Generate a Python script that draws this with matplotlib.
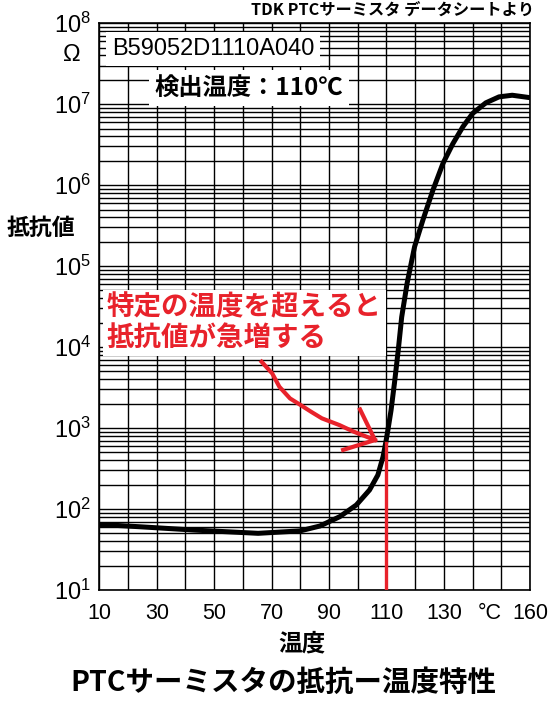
import numpy as np
import matplotlib
matplotlib.use('Agg')
import matplotlib.pyplot as plt
from matplotlib.ticker import FixedLocator, LogLocator, NullFormatter
from matplotlib.transforms import ScaledTranslation

plt.rcParams['font.family'] = ['Liberation Sans', 'Noto Sans CJK JP', 'DejaVu Sans']
plt.rcParams['mathtext.fontset'] = 'custom'
plt.rcParams['mathtext.rm'] = 'Liberation Sans'

JP = ['Noto Sans CJK JP', 'DejaVu Sans']
RED = '#e8222b'

# 抵抗値カーブ (温度 ℃, log10 抵抗値 Ω)
temp = [10, 24.6, 43.1, 65.3, 79.9, 86.8, 93.7, 99.5, 104.1, 107.0, 108.8,
        109.7, 110.5, 111.6, 112.8, 114.1, 115.3, 117.2, 119.8, 122.7, 126.2,
        129.7, 133.1, 136.6, 140.0, 144.6, 149.2, 153.8, 160]
log_r = [1.81, 1.78, 1.74, 1.70, 1.73, 1.79, 1.905, 2.05, 2.235, 2.42, 2.645,
         2.81, 2.975, 3.22, 3.56, 3.96, 4.37, 4.79, 5.24, 5.57, 5.94,
         6.27, 6.51, 6.72, 6.885, 7.016, 7.09, 7.11, 7.08]
resist = [10 ** v for v in log_r]

# 検出温度
t_detect = 110
r_detect = 10 ** 2.81

# 手書き風の矢印 (温度, log10 抵抗値)
arrow_t = [66.5, 70.2, 72.7, 76.4, 80.1, 83.8, 87.5, 93.6, 98.6, 106.0]
arrow_r = [3.819, 3.675, 3.51, 3.366, 3.284, 3.20, 3.12, 3.037, 2.955, 2.852]
head_t = [100.8, 106.0, 94.9]
head_r = [3.23, 2.852, 2.73]

xticks = list(range(10, 170, 10))
xlabels = ['10', '', '30', '', '50', '', '70', '', '90', '', '110', '', '130', '', '°C', '160']

fig = plt.figure(figsize=(5.55, 7.13), dpi=100)
ax = fig.add_axes([0.179, 0.1725, 0.776, 0.795])

ax.set_yscale('log')
ax.set_xlim(10, 160)
ax.set_ylim(10, 1e8)

ax.plot(temp, resist, color='black', lw=3.6, solid_capstyle='butt',
        solid_joinstyle='round', zorder=4)
ax.plot([t_detect, t_detect], [10, r_detect], color=RED, lw=2.4, zorder=5)

ax.plot(arrow_t, [10 ** v for v in arrow_r], color=RED, lw=3, zorder=6,
        solid_joinstyle='round')
ax.plot(head_t, [10 ** v for v in head_r], color=RED, lw=3, zorder=6,
        solid_joinstyle='miter')

ax.xaxis.set_major_locator(FixedLocator(xticks))
ax.set_xticklabels(xlabels)
ax.yaxis.set_minor_locator(LogLocator(base=10, subs=np.arange(2, 10), numticks=20))
ax.yaxis.set_minor_formatter(NullFormatter())
ax.set_yticks([10 ** k for k in range(1, 9)])
ax.set_yticklabels([r'$\mathregular{10^{%d}}$' % k for k in range(1, 9)])

ax.grid(True, which='major', color='black', lw=1.0)
ax.grid(True, which='minor', axis='y', color='black', lw=1.0)
ax.tick_params(which='both', length=0)
ax.tick_params(axis='x', labelsize=15.5, pad=9)
ax.tick_params(axis='y', labelsize=17, pad=6)
for s in ax.spines.values():
    s.set_linewidth(1.2)

# °C のラベルは少し左へずらす
lab = ax.get_xticklabels()[14]
lab.set_transform(lab.get_transform() + ScaledTranslation(-0.12, 0, fig.dpi_scale_trans))

ax.text(14.3, 10 ** 7.68, 'B59052D1110A040', fontsize=17, ha='left', va='center',
        bbox=dict(facecolor='white', edgecolor='none', pad=4), zorder=7)
ax.text(29.3, 10 ** 7.2, '検出温度：110℃', fontsize=17.5, fontweight='bold',
        family=JP, ha='left', va='center',
        bbox=dict(facecolor='white', edgecolor='none', pad=4), zorder=7)
ax.text(12.6, 10 ** 4.3, '特定の温度を超えると\n抵抗値が急増する', fontsize=19.8,
        fontweight='bold', family=JP, color=RED, ha='left', va='center',
        linespacing=1.1, bbox=dict(facecolor='white', edgecolor='none', pad=3), zorder=7)

fig.text(0.13, 0.923, 'Ω', fontsize=17, ha='center', va='center')
fig.text(0.074, 0.68, '抵抗値', fontsize=16.5, fontweight='bold', family=JP,
         ha='center', va='center')
fig.text(0.545, 0.098, '温度', fontsize=17, fontweight='bold', family=JP,
         ha='center', va='center')
fig.text(0.511, 0.042, 'PTCサーミスタの抵抗ー温度特性', fontsize=20.5, fontweight='bold',
         family=JP, ha='center', va='center')
fig.text(0.962, 0.985, 'TDK PTCサーミスタ データシートより', fontsize=11.7,
         fontweight='bold', family=JP, ha='right', va='center')

fig.savefig('out.png', dpi=100)
